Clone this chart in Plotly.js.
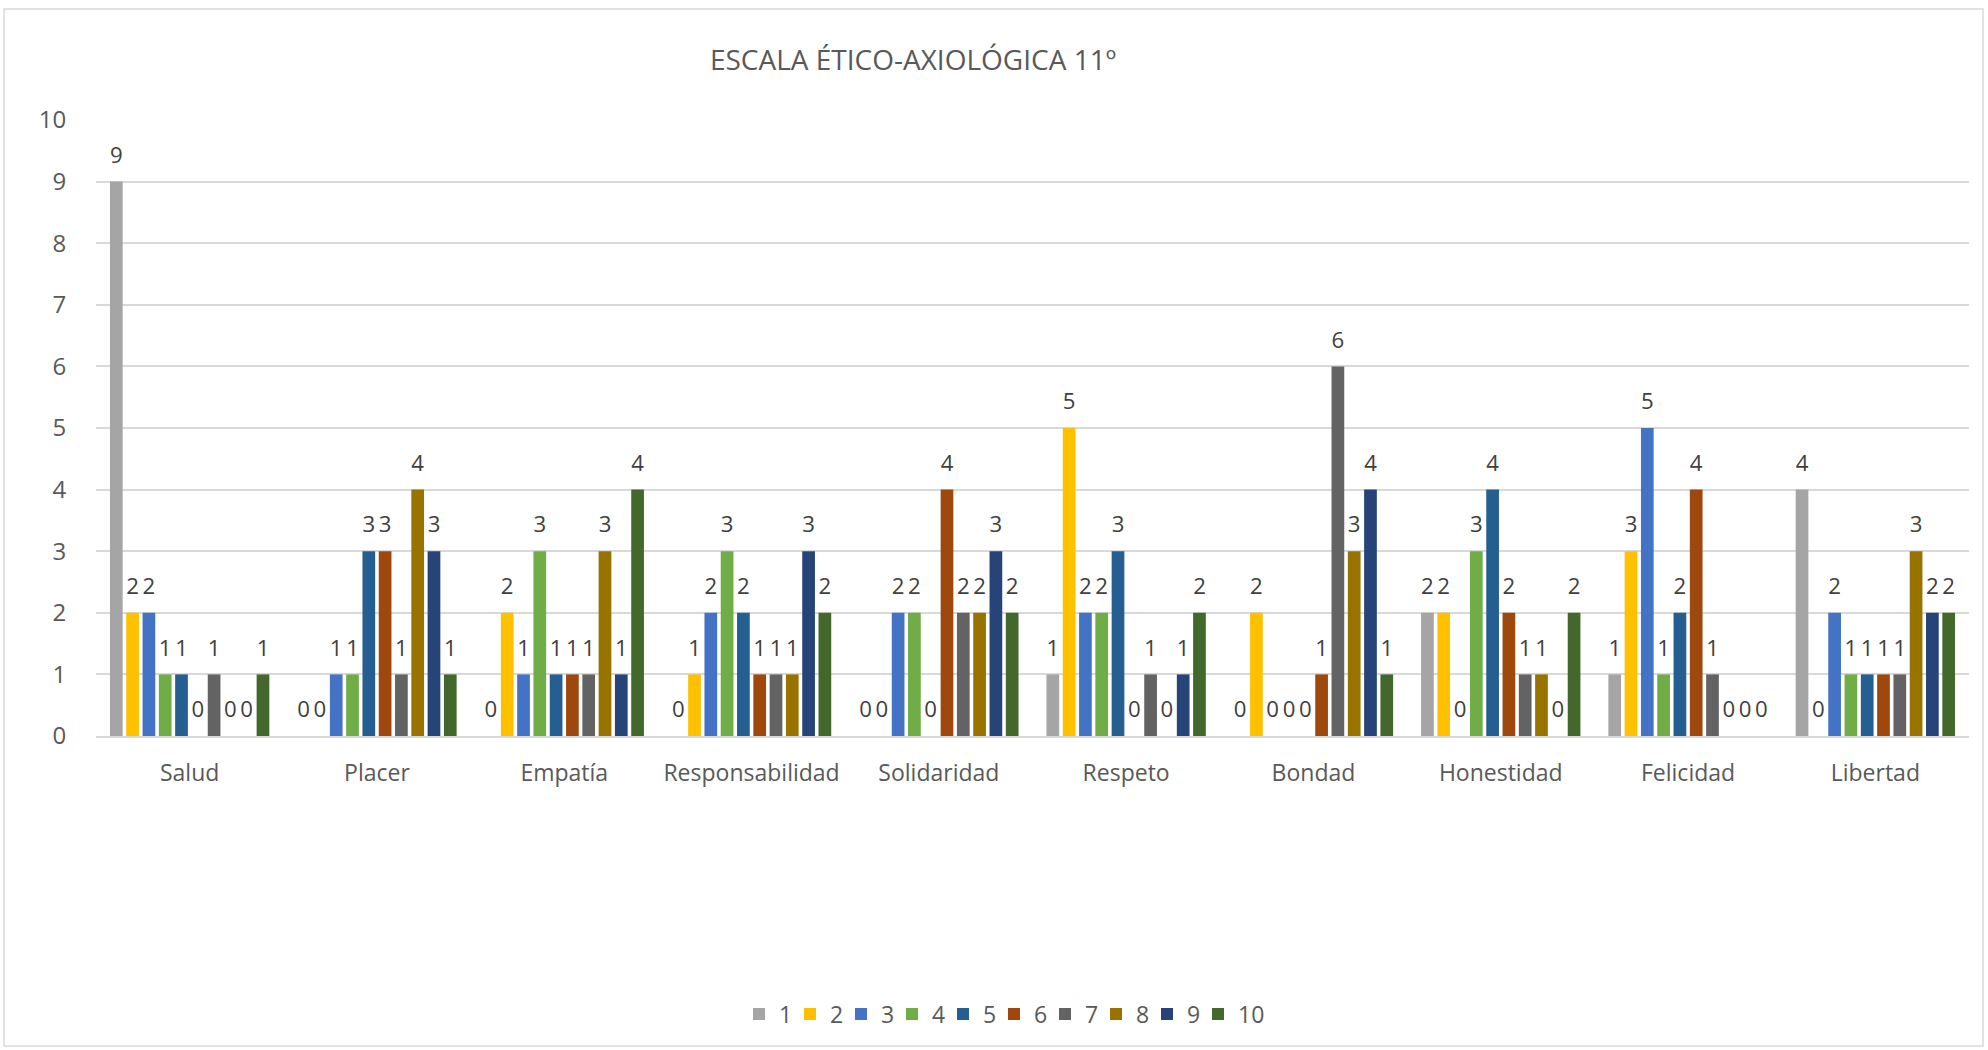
<!DOCTYPE html>
<html>
<head>
<meta charset="utf-8">
<script src="https://cdn.plot.ly/plotly-3.0.1.min.js"></script>
<style>
html,body{margin:0;padding:0;background:#fff;}
#chart{width:1988px;height:1050px;}
</style>
</head>
<body>
<div id="chart"></div>
<script>
const categories = ["Salud","Placer","Empatía","Responsabilidad","Solidaridad","Respeto","Bondad","Honestidad","Felicidad","Libertad"];
const seriesNames = ["1","2","3","4","5","6","7","8","9","10"];
const s1  = [9,0,0,0,0,1,0,2,1,4];
const s2  = [2,0,2,1,0,5,2,2,3,0];
const s3  = [2,1,1,2,2,2,0,0,5,2];
const s4  = [1,1,3,3,2,2,0,3,1,1];
const s5  = [1,3,1,2,0,3,0,4,2,1];
const s6  = [0,3,1,1,4,0,1,2,4,1];
const s7  = [1,1,1,1,2,1,6,1,1,1];
const s8  = [0,4,3,1,2,0,3,1,0,3];
const s9  = [0,3,1,3,3,1,4,0,0,2];
const s10 = [1,1,4,2,2,2,1,2,0,2];
const seriesValues = [s1,s2,s3,s4,s5,s6,s7,s8,s9,s10];
const colors = ["#A5A5A5","#FFC000","#4472C4","#70AD47","#255E91","#9E480E","#636363","#997300","#264478","#43682B"];
const titleText = "ESCALA ÉTICO-AXIOLÓGICA 11º";

const FONT = "Open Sans, sans-serif";
const traces = [];
seriesValues.forEach((vals, i) => {
  traces.push({
    type: "bar", x: categories, y: vals, name: seriesNames[i],
    marker: {color: colors[i]}, hoverinfo: "skip",
    xaxis: "x", yaxis: "y"
  });
});
// spacer legend entry so the last legend label is not clipped (invisible)
traces.push({
  type: "bar", x: [categories[0]], y: [0], name: "\u00a0", legendrank: 2000,
  marker: {color: "rgba(0,0,0,0)"}, hoverinfo: "skip", xaxis: "x", yaxis: "y3"
});
// label layer (transparent bars on shifted overlay axis so labels sit a bit higher)
seriesValues.forEach((vals, i) => {
  traces.push({
    type: "bar", x: categories, y: vals, name: seriesNames[i],
    marker: {color: "rgba(0,0,0,0)"}, showlegend: false, hoverinfo: "skip",
    text: vals.map(String), textposition: "outside", cliponaxis: false,
    textfont: {family: FONT, size: 23, color: "#404040"},
    xaxis: "x", yaxis: "y2"
  });
});

const L = 96, R = 1969, T = 120, B = 736;
const plotH = B - T, plotW = R - L;
const shift = 9 / (plotH / 10);

const layout = {
  width: 1988, height: 1050,
  margin: {l: L, r: 1988 - R, t: T, b: 1050 - B, pad: 0},
  paper_bgcolor: "#fff", plot_bgcolor: "#fff",
  font: {family: FONT, color: "#595959", size: 23},
  title: {text: titleText, font: {family: FONT, size: 28, color: "#595959"},
          x: 913/1988, xanchor: "center", xref: "container",
          y: 1 - 60/1050, yanchor: "middle", yref: "container"},
  barmode: "group", bargap: 0.13, bargroupgap: 0.22,
  xaxis: {type: "category", showgrid: false, showline: true, linecolor: "#D9D9D9", linewidth: 2,
          ticks: "outside", ticklen: 15, tickcolor: "rgba(0,0,0,0)",
          tickfont: {family: FONT, size: 23, color: "#595959"}, zeroline: false},
  yaxis: {range: [0, 10], dtick: 1, showgrid: true, gridcolor: "#D9D9D9", gridwidth: 2,
          zeroline: false, showline: false, ticks: "outside", ticklen: 24, tickcolor: "rgba(0,0,0,0)",
          tickfont: {family: FONT, size: 24, color: "#595959"}, fixedrange: true},
  yaxis2: {range: [-shift, 10 - shift], overlaying: "y", visible: false, fixedrange: true},
  yaxis3: {range: [0, 10], overlaying: "y", visible: false, fixedrange: true},
  showlegend: true,
  legend: {orientation: "h", x: (739 - L)/plotW, xanchor: "left",
           y: -(1014 - B)/plotH, yanchor: "middle",
           font: {family: FONT, size: 23, color: "#595959"}, traceorder: "normal",
           bgcolor: "rgba(0,0,0,0)", itemwidth: 30, entrywidth: 6, entrywidthmode: "pixels"},
  shapes: [{type: "rect", xref: "paper", yref: "paper",
            x0: (4 - L)/plotW, x1: (1983 - L)/plotW,
            y0: (B - 1046)/plotH, y1: (B - 9)/plotH,
            line: {color: "#D9D9D9", width: 1.5}, fillcolor: "rgba(0,0,0,0)", layer: "below"}]
};

Plotly.newPlot("chart", traces, layout, {displayModeBar: false, staticPlot: true});
</script>
</body>
</html>
